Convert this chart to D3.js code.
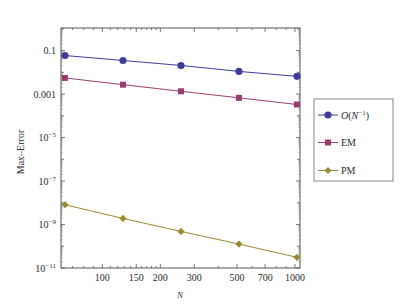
<!DOCTYPE html>
<html>
<head>
<meta charset="utf-8">
<script src="https://cdnjs.cloudflare.com/ajax/libs/d3/7.8.5/d3.min.js"></script>
<style>
  body { margin: 0; background: #fff; }
  svg text { font-family: "Liberation Serif", "DejaVu Serif", serif; fill: #2a2a2a; }
</style>
</head>
<body>
<div id="chart"></div>
<script>
// ── Data ───────────────────────────────────────────────────────
const sizesN    = [64, 128, 256, 512, 1024];
const orderVals = [0.059, 0.035, 0.0206, 0.011, 0.0065];
const emVals    = [0.0055, 0.0027, 0.00134, 0.00067, 0.00033];
const pmVals    = [8.1e-9, 1.9e-9, 4.8e-10, 1.26e-10, 3.1e-11];

const xLabelTicks = [100, 150, 200, 300, 500, 700, 1000];
const xMinorTicks = [70, 80, 90, 110, 120, 130, 140, 160, 170, 180, 190, 400, 600, 800, 900];
const yLabelExps  = [-1, -3, -5, -7, -9, -11];

const colors = {
  order: "#3d3d99",
  em:    "#993d71",
  pm:    "#998a2f",
  frame: "#555",
};

const W = 402, H = 304;
const frame = { left: 61, right: 300, top: 28, bottom: 268 };

const svg = d3.select("#chart").append("svg")
  .attr("width", W).attr("height", H);

const x = d3.scaleLog().domain([61, 1062]).range([frame.left, frame.right]);
const y = d3.scaleLog().domain([1e-11, 1.09]).range([frame.bottom, frame.top]);

// ── Frame ──────────────────────────────────────────────────────
svg.append("rect")
  .attr("x", frame.left).attr("y", frame.top)
  .attr("width", frame.right - frame.left)
  .attr("height", frame.bottom - frame.top)
  .attr("fill", "none").attr("stroke", colors.frame).attr("stroke-width", 1);

// x ticks (bottom + top)
const tickG = svg.append("g").attr("stroke", colors.frame).attr("stroke-width", 0.8);
xLabelTicks.forEach(v => {
  tickG.append("line").attr("x1", x(v)).attr("x2", x(v))
    .attr("y1", frame.bottom).attr("y2", frame.bottom - 4);
  tickG.append("line").attr("x1", x(v)).attr("x2", x(v))
    .attr("y1", frame.top).attr("y2", frame.top + 4);
});
xMinorTicks.forEach(v => {
  tickG.append("line").attr("x1", x(v)).attr("x2", x(v))
    .attr("y1", frame.bottom).attr("y2", frame.bottom - 2);
  tickG.append("line").attr("x1", x(v)).attr("x2", x(v))
    .attr("y1", frame.top).attr("y2", frame.top + 2);
});

svg.append("g").selectAll("text")
  .data(xLabelTicks).enter().append("text")
  .attr("x", d => x(d)).attr("y", 281)
  .attr("text-anchor", "middle")
  .style("font-size", "10px")
  .text(d => d);

// y ticks (left + right): major at each decade, minor in between
for (let e = -11; e <= 0; e++) {
  const yy = y(Math.pow(10, e));
  const len = yLabelExps.includes(e) ? 4 : 3;
  tickG.append("line").attr("x1", frame.left).attr("x2", frame.left + len)
    .attr("y1", yy).attr("y2", yy);
  tickG.append("line").attr("x1", frame.right).attr("x2", frame.right - len)
    .attr("y1", yy).attr("y2", yy);
  for (let m = 2; m <= 9; m++) {
    const v = m * Math.pow(10, e);
    if (v > 1.09) continue;
    const ym = y(v);
    tickG.append("line").attr("x1", frame.left).attr("x2", frame.left + 1.5)
      .attr("y1", ym).attr("y2", ym).attr("stroke-width", 0.5);
    tickG.append("line").attr("x1", frame.right).attr("x2", frame.right - 1.5)
      .attr("y1", ym).attr("y2", ym).attr("stroke-width", 0.5);
  }
}

yLabelExps.forEach(e => {
  const t = svg.append("text")
    .attr("x", 56).attr("y", y(Math.pow(10, e)) + 3.5)
    .attr("text-anchor", "end")
    .style("font-size", "10px");
  if (e === -1) t.text("0.1");
  else if (e === -3) t.text("0.001");
  else {
    t.append("tspan").text("10");
    t.append("tspan").attr("dy", -4).style("font-size", "7px").text("\u2212" + (-e));
  }
});

// axis titles
svg.append("text")
  .attr("transform", "translate(24,152) rotate(-90)")
  .attr("text-anchor", "middle")
  .style("font-size", "10px")
  .text("Max\u2013Error");

svg.append("text")
  .attr("x", 180).attr("y", 298)
  .attr("text-anchor", "middle")
  .style("font-size", "9px").style("font-style", "italic")
  .text("N");

// ── Series ─────────────────────────────────────────────────────
const line = d3.line().x(d => x(d[0])).y(d => y(d[1]));
const series = [
  { key: "order", vals: orderVals, symbol: d3.symbolCircle, size: 40, rot: 0 },
  { key: "em",    vals: emVals,    symbol: d3.symbolSquare, size: 36, rot: 0 },
  { key: "pm",    vals: pmVals,    symbol: d3.symbolSquare, size: 26, rot: 45 },
];

series.forEach(s => {
  const pts = sizesN.map((n, i) => [n, s.vals[i]]);
  svg.append("path").datum(pts)
    .attr("fill", "none").attr("stroke", colors[s.key]).attr("stroke-width", 1)
    .attr("d", line);
  svg.selectAll(".pt-" + s.key).data(pts).enter().append("path")
    .attr("class", "pt-" + s.key)
    .attr("transform", d => `translate(${x(d[0])},${y(d[1])}) rotate(${s.rot})`)
    .attr("d", d3.symbol().type(s.symbol).size(s.size))
    .attr("fill", colors[s.key]);
});

// ── Legend ─────────────────────────────────────────────────────
const lg = svg.append("g");
lg.append("rect")
  .attr("x", 314).attr("y", 99).attr("width", 79).attr("height", 82)
  .attr("fill", "#fff").attr("stroke", "#666").attr("stroke-width", 0.8);

const legendRows = [
  { key: "order", y: 115 },
  { key: "em",    y: 142.5 },
  { key: "pm",    y: 170.5 },
];
legendRows.forEach((r, i) => {
  const s = series[i];
  lg.append("line").attr("x1", 318).attr("x2", 338)
    .attr("y1", r.y).attr("y2", r.y)
    .attr("stroke", colors[r.key]).attr("stroke-width", 1);
  lg.append("path")
    .attr("transform", `translate(328,${r.y}) rotate(${s.rot})`)
    .attr("d", d3.symbol().type(s.symbol).size(s.size))
    .attr("fill", colors[r.key]);
});

const lt = lg.append("text").attr("x", 341).attr("y", 118.5).style("font-size", "10px");
lt.append("tspan").style("font-style", "italic").text("O");
lt.append("tspan").text("(");
lt.append("tspan").style("font-style", "italic").text("N");
lt.append("tspan").attr("dy", -4).style("font-size", "7px").text("\u22121");
lt.append("tspan").attr("dy", 4).text(")");

lg.append("text").attr("x", 341).attr("y", 146).style("font-size", "10px").text("EM");
lg.append("text").attr("x", 341).attr("y", 174).style("font-size", "10px").text("PM");
</script>
</body>
</html>
